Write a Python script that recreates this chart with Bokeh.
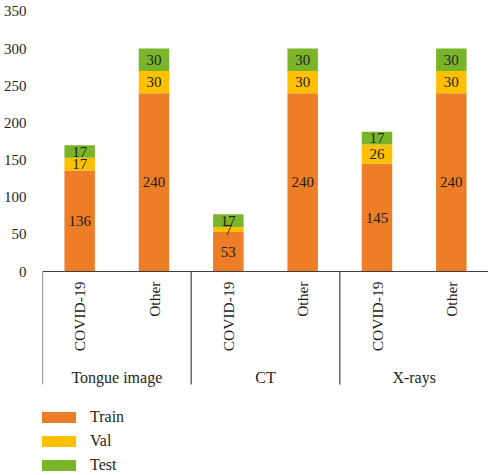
from bokeh.plotting import figure
from bokeh.models import (ColumnDataSource, FactorRange, Range1d, FixedTicker,
                          Legend, LegendItem)
from bokeh.core.properties import value
from bokeh.embed import file_html
from bokeh.resources import INLINE
import math

groups = ["Tongue image", "CT", "X-rays"]
classes = ["COVID-19", "Other"]
train = [136, 240, 53, 240, 145, 240]
val = [17, 30, 7, 30, 26, 30]
test = [17, 30, 17, 30, 17, 30]
y_ticks = [0, 50, 100, 150, 200, 250, 300, 350]

colors = {"Train": "#ED7D27", "Val": "#FFC000", "Test": "#7AB428"}
FONT = "Liberation Serif"
TXT = "#231F20"

factors = [(g, c) for g in groups for c in classes]

W = 488
H = 474
Z = 271      # pixel row of the zero line
K = 0.743    # pixels per unit
p = figure(width=W, height=H, output_backend="svg", toolbar_location=None,
           x_range=FactorRange(*factors, factor_padding=0, group_padding=0,
                               subgroup_padding=0, range_padding=0),
           y_range=Range1d(-(H - Z) / K, Z / K),
           min_border_left=41, min_border_right=0, min_border_top=0,
           min_border_bottom=0)
p.outline_line_color = None
p.xgrid.visible = False
p.ygrid.visible = False
p.xaxis.visible = False

ya = p.yaxis[0]
ya.ticker = FixedTicker(ticks=y_ticks)
ya.axis_line_color = None
ya.major_tick_line_color = None
ya.minor_tick_line_color = None
ya.major_label_standoff = 10
ya.major_label_text_font = FONT
ya.major_label_text_font_size = "15px"
ya.major_label_text_color = TXT

src = ColumnDataSource(dict(x=factors, Train=train, Val=val, Test=test))
rs = p.vbar_stack(["Train", "Val", "Test"], x="x", width=0.41, source=src,
                  color=[colors["Train"], colors["Val"], colors["Test"]],
                  line_color=None)

# value labels centered in segments
lx, ly, lt = [], [], []
for i, f in enumerate(factors):
    b = 0
    for v in (train[i], val[i], test[i]):
        lx.append(f)
        ly.append(b + v / 2)
        lt.append(str(v))
        b += v
p.text(x=lx, y=ly, text=lt, text_align="center", text_baseline="middle",
       text_font=value(FONT), text_font_size="15px", text_color=TXT)

# category axis drawn manually
p.segment(x0=[(groups[0], classes[0], -0.5)], y0=[0],
          x1=[(groups[-1], classes[-1], 0.5)], y1=[0],
          line_color="#404040", line_width=1.2)
p.segment(x0=[(g, classes[0], -0.5) for g in groups], y0=[0] * len(groups),
          x1=[(g, classes[0], -0.5) for g in groups], y1=[-152] * len(groups),
          line_color="#404040", line_width=1.2)
p.text(x=factors, y=[-13.5] * len(factors), text=[c for g, c in factors],
       angle=math.pi / 2, text_align="right", text_baseline="middle",
       text_font=value(FONT), text_font_size="15.5px", text_color=TXT)
p.text(x=groups, y=[-142.7] * len(groups), text=groups,
       text_align="center", text_baseline="middle",
       text_font=value(FONT), text_font_size="16px", text_color=TXT)

legend = Legend(items=[LegendItem(label=n, renderers=[r]) for n, r in
                       zip(["Train", "Val", "Test"], rs)],
                location=(-6, 0), orientation="vertical",
                glyph_width=44, glyph_height=14, label_height=16, spacing=6,
                label_standoff=10, padding=0, margin=0,
                border_line_color=None, background_fill_alpha=0,
                label_text_font=FONT, label_text_font_size="16px",
                label_text_color=TXT)
p.add_layout(legend)

open("out.html", "w").write(file_html(p, INLINE))
